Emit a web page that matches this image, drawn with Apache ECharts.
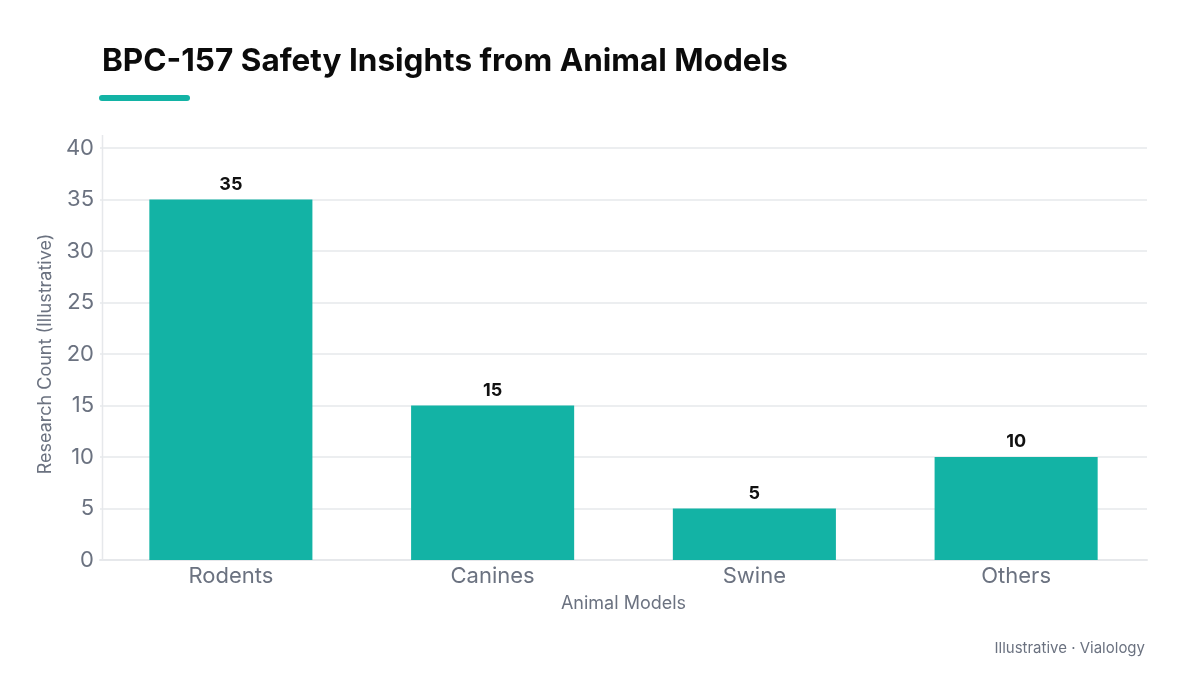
<!DOCTYPE html>
<html>
<head>
<meta charset="utf-8">
<script src="https://cdn.jsdelivr.net/npm/echarts@6/dist/echarts.min.js"></script>
<style>
html,body{margin:0;padding:0;background:#fff;}
#chart{width:1200px;height:675px;}
</style>
</head>
<body>
<div id="chart"></div>
<script>
const categories = ['Rodents', 'Canines', 'Swine', 'Others'];
const researchCounts = [35, 15, 5, 10];
const yTicks = { min: 0, max: 40, interval: 5 };
const titleText = 'BPC-157 Safety Insights from Animal Models';
const xAxisTitle = 'Animal Models';
const yAxisTitle = 'Research Count (Illustrative)';
const footerText = 'Illustrative · Vialology';

const teal = '#13b3a5';
const gray = '#6b7280';
const lineGray = '#e6e8eb';
const font = 'Inter, "DejaVu Sans", sans-serif';

const chart = echarts.init(document.getElementById('chart'));
chart.setOption({
  backgroundColor: '#ffffff',
  animation: false,
  title: {
    text: titleText,
    left: 97,
    top: 41,
    textStyle: { fontFamily: font, fontSize: 31.5, fontWeight: 'bold', color: '#0b0b0b' }
  },
  graphic: [
    { type: 'rect', shape: { x: 99, y: 95, width: 91, height: 6, r: 3 }, style: { fill: teal } },
    { type: 'line', shape: { x1: 102.5, y1: 135, x2: 102.5, y2: 560 }, style: { stroke: lineGray, lineWidth: 1.5 } },
    { type: 'text', right: 55, top: 641, style: { text: footerText, fontFamily: font, fontSize: 15, fill: gray } }
  ],
  grid: { left: 100, right: 53, top: 148, bottom: 115 },
  xAxis: {
    type: 'category',
    data: categories,
    name: xAxisTitle,
    nameLocation: 'middle',
    nameGap: 35,
    nameTextStyle: { fontFamily: font, fontSize: 18, color: gray },
    axisLine: { show: true, lineStyle: { color: lineGray, width: 2 } },
    axisTick: { show: false },
    axisLabel: { fontFamily: font, fontSize: 22, color: gray, margin: 5 }
  },
  yAxis: {
    type: 'value',
    min: yTicks.min,
    max: yTicks.max,
    interval: yTicks.interval,
    name: yAxisTitle,
    nameLocation: 'middle',
    nameGap: 42,
    nameTextStyle: { fontFamily: font, fontSize: 18, color: gray },
    axisLine: { show: false },
    axisTick: { show: false },
    axisLabel: { fontFamily: font, fontSize: 22, color: gray, margin: 6 },
    splitLine: { show: true, lineStyle: { color: lineGray, width: 1.5 } }
  },
  series: [{
    type: 'bar',
    data: researchCounts,
    barWidth: '62.3%',
    itemStyle: { color: teal },
    label: {
      show: true,
      position: 'top',
      distance: 6,
      fontFamily: font,
      fontSize: 18,
      fontWeight: 'bold',
      color: '#111111'
    }
  }]
});
</script>
</body>
</html>
